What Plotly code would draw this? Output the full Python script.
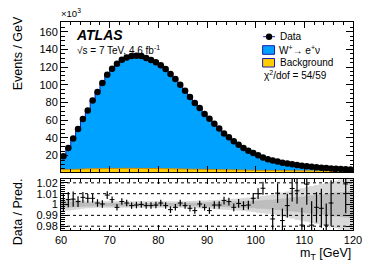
import plotly.graph_objects as go

# ---------------- data ----------------
edges = list(range(60, 121))                 # bin edges of m_T [GeV], 1 GeV bins
centers = [e + 0.5 for e in edges[:-1]]

# events per GeV, in units of 10^3
data_k = [19.2, 28.7, 39.2, 50.0, 61.4, 71.1, 82.4, 91.9, 102.0, 111.4,
          118.2, 123.8, 128.3, 131.0, 132.5, 132.8, 132.5, 130.2, 128.0, 125.5,
          122.0, 117.8, 112.2, 106.5, 100.1, 93.3, 86.2, 79.4, 73.8, 67.0,
          61.7, 56.1, 50.5, 45.1, 40.6, 36.1, 32.4, 28.7, 25.6, 23.0,
          20.3, 17.9, 16.0, 14.5, 13.2, 12.0, 11.0, 10.1, 9.3, 8.6,
          7.9, 7.3, 6.8, 6.3, 5.9, 5.5, 5.1, 4.8, 4.5, 4.2]

background_k = [4.0, 4.2, 4.4, 4.6, 4.8, 5.0, 5.1, 5.2, 5.3, 5.4,
                5.5, 5.5, 5.6, 5.6, 5.6, 5.6, 5.5, 5.5, 5.4, 5.4,
                5.3, 5.2, 5.1, 5.0, 4.9, 4.8, 4.7, 4.6, 4.5, 4.4,
                4.3, 4.2, 4.1, 4.0, 3.9, 3.8, 3.7, 3.6, 3.5, 3.4,
                3.3, 3.2, 3.2, 3.1, 3.1, 3.0, 3.0, 2.9, 2.9, 2.8,
                2.8, 2.8, 2.7, 2.7, 2.7, 2.6, 2.6, 2.6, 2.5, 2.5]

signal_k = [15.2, 24.5, 34.6, 45.3, 56.2, 65.7, 76.8, 86.6, 96.6, 105.1,
            112.2, 118.6, 122.4, 125.2, 127.0, 127.3, 127.0, 124.8, 122.7, 120.2,
            116.5, 112.7, 107.6, 101.8, 95.1, 88.6, 81.8, 75.2, 69.3, 62.8,
            57.7, 51.9, 46.4, 40.9, 36.6, 32.4, 28.7, 25.1, 22.1, 19.5,
            16.8, 14.4, 12.4, 11.6, 10.0, 9.2, 8.0, 7.1, 6.3, 6.0,
            5.0, 4.6, 4.1, 3.6, 3.3, 2.9, 2.5, 2.2, 2.0, 1.7]

ratio = [1.0020, 1.0045, 1.0050, 1.0027, 1.0066, 1.0057, 1.0057, 1.0014, 1.0005, 1.0087,
         1.0045, 0.9974, 1.0027, 1.0014, 0.9990, 0.9995, 1.0000, 0.9990, 0.9990, 0.9995,
         1.0014, 0.9990, 0.9953, 0.9974, 1.0014, 0.9990, 0.9965, 0.9944, 1.0005, 0.9974,
         0.9944, 0.9995, 0.9995, 1.0036, 1.0027, 0.9974, 1.0010, 0.9990, 0.9995, 1.0057,
         1.0100, 1.0150, 1.0300, 0.9867, 1.0105, 0.9852, 0.9990, 1.0148, 1.0127, 0.9810,
         1.0188, 0.9810, 0.9974, 0.9965, 0.9810, 1.0014, 0.9500, 1.0500, 1.0190, 0.9500]

ratio_err = [0.0085, 0.0070, 0.0070, 0.0050, 0.0050, 0.0040, 0.0040, 0.0035, 0.0035, 0.0035,
             0.0030, 0.0030, 0.0030, 0.0030, 0.0030, 0.0030, 0.0030, 0.0030, 0.0030, 0.0030,
             0.0030, 0.0030, 0.0030, 0.0030, 0.0030, 0.0030, 0.0030, 0.0030, 0.0030, 0.0030,
             0.0030, 0.0035, 0.0035, 0.0035, 0.0035, 0.0035, 0.0040, 0.0040, 0.0040, 0.0050,
             0.0050, 0.0060, 0.0070, 0.0100, 0.0090, 0.0110, 0.0110, 0.0120, 0.0120, 0.0160,
             0.0190, 0.0220, 0.0140, 0.0180, 0.0200, 0.0210, 0.0150, 0.0150, 0.0270, 0.0150]

# prediction uncertainty band (relative half-widths)
band_outer = [0.0060, 0.0055, 0.0050, 0.0045, 0.0040, 0.0035, 0.0032, 0.0030, 0.0030, 0.0030,
              0.0030, 0.0030, 0.0030, 0.0030, 0.0030, 0.0030, 0.0030, 0.0030, 0.0030, 0.0030,
              0.0030, 0.0030, 0.0030, 0.0030, 0.0030, 0.0030, 0.0032, 0.0034, 0.0036, 0.0038,
              0.0040, 0.0042, 0.0045, 0.0048, 0.0050, 0.0053, 0.0056, 0.0060, 0.0065, 0.0070,
              0.0075, 0.0080, 0.0085, 0.0090, 0.0100, 0.0110, 0.0120, 0.0130, 0.0140, 0.0150,
              0.0160, 0.0170, 0.0180, 0.0190, 0.0200, 0.0210, 0.0220, 0.0230, 0.0240, 0.0250]
band_inner = [0.0030, 0.0028, 0.0025, 0.0023, 0.0020, 0.0018, 0.0016, 0.0015, 0.0015, 0.0015,
              0.0015, 0.0015, 0.0015, 0.0015, 0.0015, 0.0015, 0.0015, 0.0015, 0.0015, 0.0015,
              0.0015, 0.0015, 0.0015, 0.0015, 0.0015, 0.0015, 0.0016, 0.0017, 0.0018, 0.0019,
              0.0020, 0.0021, 0.0023, 0.0024, 0.0025, 0.0027, 0.0028, 0.0030, 0.0033, 0.0035,
              0.0038, 0.0040, 0.0043, 0.0045, 0.0050, 0.0055, 0.0060, 0.0065, 0.0070, 0.0075,
              0.0080, 0.0085, 0.0090, 0.0095, 0.0100, 0.0105, 0.0110, 0.0115, 0.0120, 0.0125]

ratio_ticks = [0.98, 0.99, 1.0, 1.01, 1.02]
ratio_ticktext = ["0.98", "0.99", "1", "1.01", "1.02"]
grid_lines = [0.98, 0.99, 1.01, 1.02]

# ---------------- styling ----------------
FONT = "Liberation Sans, Arial, Helvetica, sans-serif"
BLUE = "#00A2FF"
BLUE_LINE = "#1A1AB0"
GOLD = "#FFCC00"
GOLD_LINE = "#C88A00"


def step(vals):
    return list(vals) + [vals[-1]]


total_k = [b + s for b, s in zip(background_k, signal_k)]

fig = go.Figure()

# main panel: stacked histograms
fig.add_trace(go.Scatter(x=edges, y=step(background_k), mode="lines", line_shape="hv",
                         line=dict(color=GOLD_LINE, width=1), fill="tozeroy",
                         fillcolor=GOLD, xaxis="x", yaxis="y", hoverinfo="skip"))
fig.add_trace(go.Scatter(x=edges, y=step(total_k), mode="lines", line_shape="hv",
                         line=dict(color=BLUE_LINE, width=1), fill="tonexty",
                         fillcolor=BLUE, xaxis="x", yaxis="y", hoverinfo="skip"))
fig.add_trace(go.Scatter(x=centers, y=data_k, mode="markers",
                         marker=dict(color="black", size=6.5),
                         xaxis="x", yaxis="y"))

# ratio panel: bands
for half, col in ((band_outer, "#D9D9D9"), (band_inner, "#BDBDBD")):
    up = [1 + h for h in half]
    dn = [1 - h for h in half]
    fig.add_trace(go.Scatter(x=edges, y=step(up), mode="lines", line_shape="hv",
                             line=dict(width=0, color=col), xaxis="x2", yaxis="y2",
                             hoverinfo="skip"))
    fig.add_trace(go.Scatter(x=edges, y=step(dn), mode="lines", line_shape="hv",
                             line=dict(width=0, color=col), fill="tonexty", fillcolor=col,
                             xaxis="x2", yaxis="y2", hoverinfo="skip"))

fig.add_trace(go.Scatter(x=centers, y=ratio, mode="markers",
                         marker=dict(color="black", size=1),
                         error_x=dict(type="constant", value=0.5, width=0, thickness=1, color="black"),
                         error_y=dict(type="data", array=ratio_err, width=0, thickness=1.2, color="black"),
                         xaxis="x2", yaxis="y2", cliponaxis=True))

for g in grid_lines:
    fig.add_shape(type="line", xref="x2", yref="y2", x0=edges[0], x1=edges[-1], y0=g, y1=g,
                  line=dict(color="black", width=1, dash="dot"), layer="above")

axis_common = dict(showgrid=False, zeroline=False, showline=True, linecolor="black",
                   linewidth=1, mirror="allticks", ticks="inside", tickcolor="black",
                   tickfont=dict(family=FONT, size=11, color="black"))

fig.update_layout(
    width=374, height=268,
    margin=dict(l=61, r=19, t=22, b=38),
    paper_bgcolor="white", plot_bgcolor="white",
    showlegend=False,
    font=dict(family=FONT, color="black"),
    xaxis=dict(domain=[0, 1], anchor="y", range=[60, 120], dtick=10, tick0=60,
               ticklen=6, showticklabels=False, matches="x2",
               minor=dict(ticks="inside", dtick=2, ticklen=3, tickcolor="black"),
               **axis_common),
    yaxis=dict(domain=[0.279, 1], anchor="x", range=[1.5, 171], dtick=20, tick0=0,
               ticklen=7, minor=dict(ticks="inside", dtick=5, ticklen=3.5, tickcolor="black"),
               **axis_common),
    xaxis2=dict(domain=[0, 1], anchor="y2", range=[60, 120], dtick=10, tick0=60,
                ticklen=5, minor=dict(ticks="inside", dtick=2, ticklen=2.5, tickcolor="black"),
                **axis_common),
    yaxis2=dict(domain=[0, 0.245], anchor="x2", range=[0.9765, 1.0235],
                tickvals=ratio_ticks, ticktext=ratio_ticktext, ticklen=7,
                minor=dict(ticks="inside", dtick=0.002, ticklen=3.5, tickcolor="black"),
                **axis_common),
)


def px(x):
    return (x - 61) / 294.0


def py(y):
    return (230 - y) / 208.0


ann = []
ann.append(dict(text="Events / GeV", x=px(18), y=py(53), textangle=-90,
                font=dict(size=12.5)))
ann.append(dict(text="Data / Pred.", x=px(18), y=py(212), textangle=-90,
                font=dict(size=12.5)))
ann.append(dict(text="m<sub>T</sub> [GeV]", x=1.0, y=py(254), xanchor="right",
                font=dict(size=12.5)))
ann.append(dict(text="×10<sup>3</sup>", x=px(59), y=py(13), xanchor="left",
                font=dict(size=9.5)))
ann.append(dict(text="<b><i>ATLAS</i></b>", x=px(74), y=py(35), xanchor="left",
                font=dict(size=14)))
ann.append(dict(text="√s = 7 TeV, 4.6 fb<sup>-1</sup>", x=px(75), y=py(50), xanchor="left",
                font=dict(size=10)))
ann.append(dict(text="Data", x=px(279), y=py(36.7), xanchor="left", font=dict(size=10)))
ann.append(dict(text="W<sup>+</sup>→ e<sup>+</sup>ν", x=px(278.5), y=py(50), xanchor="left",
                font=dict(size=10)))
ann.append(dict(text="Background", x=px(279), y=py(62.8), xanchor="left", font=dict(size=10)))
ann.append(dict(text="χ<sup>2</sup>/dof = 54/59", x=px(263.5), y=py(74.5), xanchor="left",
                font=dict(size=10)))
for a in ann:
    a.update(xref="paper", yref="paper", showarrow=False, yanchor="middle")
    a.setdefault("xanchor", "center")
fig.update_layout(annotations=ann)

# hand-drawn legend glyphs (paper coordinates)
fig.add_shape(type="line", xref="paper", yref="paper", x0=px(264.5), x1=px(276.5),
              y0=py(36.7), y1=py(36.7), line=dict(color=BLUE_LINE, width=1))
fig.add_shape(type="circle", xref="paper", yref="paper", x0=px(267.3), x1=px(273.7),
              y0=py(39.9), y1=py(33.5), fillcolor="black", line=dict(color="black", width=0))
fig.add_shape(type="rect", xref="paper", yref="paper", x0=px(264), x1=px(276),
              y0=py(54.3), y1=py(45.7), fillcolor=BLUE, line=dict(color=BLUE_LINE, width=1))
fig.add_shape(type="rect", xref="paper", yref="paper", x0=px(264), x1=px(276),
              y0=py(67.0), y1=py(58.5), fillcolor=GOLD, line=dict(color=BLUE_LINE, width=1))

fig.write_html("out.html", config={"displayModeBar": False},
               post_script="document.body.style.margin='0';document.body.style.overflow='hidden';")
